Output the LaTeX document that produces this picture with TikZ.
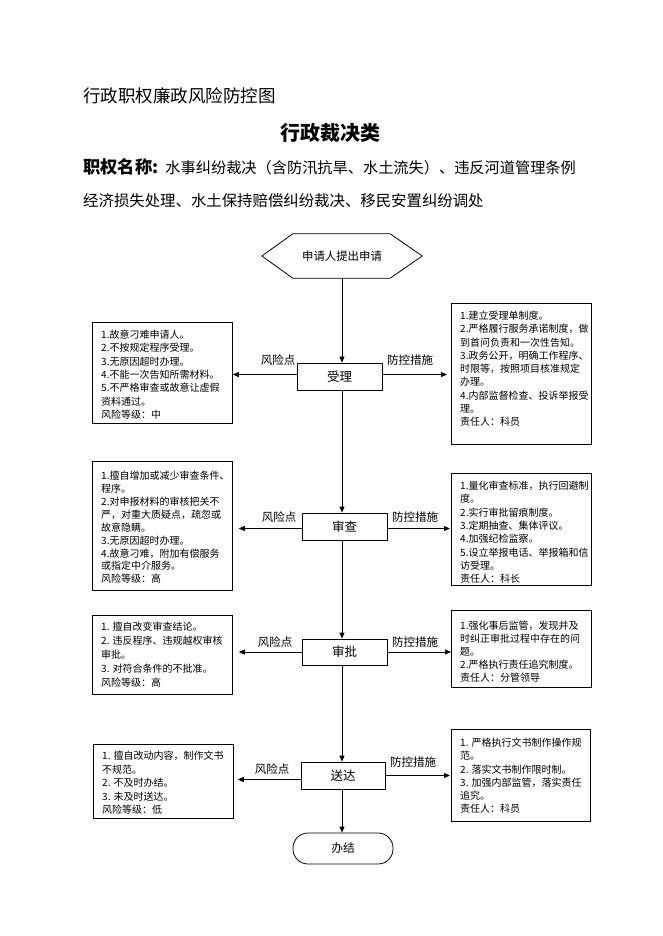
\documentclass[tikz,border=0pt]{standalone}
\usepackage{fontspec}
\setmainfont{Noto Sans CJK SC}
\usetikzlibrary{arrows.meta}
\begin{document}
\begin{tikzpicture}[x=1pt,y=-1pt,
  box/.style={draw, line width=0.8pt, inner sep=0pt, anchor=north west},
  txt/.style={anchor=north west, inner sep=0pt, align=left, font=\fontsize{10}{#1}\selectfont},
  stepbox/.style={draw, line width=0.8pt, minimum width=85pt, minimum height=27pt, inner sep=0pt, font=\fontsize{12.5}{15}\selectfont},
  lab/.style={inner sep=0pt, font=\fontsize{11.5}{14}\selectfont},
  arr/.style={line width=0.8pt, -{Triangle[length=6pt,width=5pt]}},
  ln/.style={line width=0.8pt}]
\useasboundingbox (0,0) rectangle (662,936);
\fill[white] (0,0) rectangle (662,936);

% header
\node[anchor=west, inner sep=0pt, font=\fontsize{17.5}{20}\selectfont] (hd) at (83,96) {行政职权廉政风险防控图};
\node[inner sep=0pt, font=\fontsize{20}{24}\selectfont\bfseries] (tt) at (330,133) {行政裁决类};
\node[anchor=west, inner sep=0pt] (nm) at (83,167) {{\fontsize{17.3}{20}\selectfont\bfseries 职权名称:}\hspace{7pt}{\fontsize{15.2}{18}\selectfont 水事纠纷裁决（含防汛抗旱、水土流失）、违反河道管理条例}};
\node[anchor=west, inner sep=0pt, font=\fontsize{15.4}{18}\selectfont] (nm2) at (83,201) {经济损失处理、水土保持赔偿纠纷裁决、移民安置纠纷调处};

\coordinate (axis) at (342,0);

% hexagon start
\node[minimum width=160pt, minimum height=44pt, inner sep=0pt, font=\fontsize{11.4}{14}\selectfont] (hex) at (342,256) {申请人提出申请};
\draw[ln] (hex.west) -- ([xshift=31pt]hex.north west) -- ([xshift=-32pt]hex.north east) -- (hex.east) -- ([xshift=-32pt]hex.south east) -- ([xshift=31pt]hex.south west) -- cycle;

% steps
\node[stepbox] (s1) at (339.5,376.5) {受理};
\node[stepbox] (s2) at (344.5,526.5) {审查};
\node[stepbox, minimum height=26pt] (s3) at (344.5,652) {审批};
\node[stepbox, minimum width=84pt] (s4) at (343,775.5) {送达};
\node[draw, line width=0.8pt, rounded corners=15pt, minimum width=100pt, minimum height=31pt, inner sep=0pt, font=\fontsize{11.7}{14}\selectfont] (end) at (343,848.5) {办结};

% vertical flow
\draw[arr] (hex.south -| axis) -- (s1.north -| axis);
\draw[arr] (s1.south -| axis) -- (s2.north -| axis);
\draw[arr] (s2.south -| axis) -- (s3.north -| axis);
\draw[arr] (s3.south -| axis) -- (s4.north -| axis);
\draw[arr] (s4.south -| axis) -- (end.north -| axis);

% boxes
\node[box, minimum width=140pt, minimum height=101pt] (L1) at (92,322) {};
\node[box, minimum width=140pt, minimum height=141pt] (R1) at (451,303) {};
\node[box, minimum width=140pt, minimum height=129pt] (L2) at (92,461) {};
\node[box, minimum width=140pt, minimum height=112pt] (R2) at (451,473) {};
\node[box, minimum width=140pt, minimum height=79pt] (L3) at (92,615) {};
\node[box, minimum width=140pt, minimum height=77pt] (R3) at (451,610) {};
\node[box, minimum width=140pt, minimum height=74pt] (L4) at (93,744) {};
\node[box, minimum width=139pt, minimum height=92pt] (R4) at (451,729) {};

% texts
\node[txt=13.3] (L1t) at (101,330) {1.故意刁难申请人。\\2.不按规定程序受理。\\3.无原因超时办理。\\4.不能一次告知所需材料。\\5.不严格审查或故意让虚假\\资料通过。\\风险等级：中};
\node[txt=13.25] (R1t) at (460,311) {1.建立受理单制度。\\2.严格履行服务承诺制度，做\\到首问负责和一次性告知。\\3.政务公开，明确工作程序、\\时限等，按照项目核准规定\\办理。\\4.内部监督检查、投诉举报受\\理。\\责任人：科员};
\node[txt=12.9] (L2t) at (101,471) {1.擅自增加或减少审查条件、\\程序。\\2.对申报材料的审核把关不\\严，对重大质疑点，疏忽或\\故意隐瞒。\\3.无原因超时办理。\\4.故意刁难，附加有偿服务\\或指定中介服务。\\风险等级：高};
\node[txt=13.3] (R2t) at (460,481) {1.量化审查标准，执行回避制\\度。\\2.实行审批留痕制度。\\3.定期抽查、集体评议。\\4.加强纪检监察。\\5.设立举报电话、举报箱和信\\访受理。\\责任人：科长};
\node[txt=14.0] (L3t) at (101,622) {1. 擅自改变审查结论。\\2. 违反程序、违规越权审核\\审批。\\3. 对符合条件的不批准。\\风险等级：高};
\node[txt=13.0] (R3t) at (460,621) {1.强化事后监管，发现并及\\时纠正审批过程中存在的问\\题。\\2.严格执行责任追究制度。\\责任人：分管领导};
\node[txt=13.5] (L4t) at (102,751) {1. 擅自改动内容，制作文书\\不规范。\\2. 不及时办结。\\3. 未及时送达。\\风险等级：低};
\node[txt=13.2] (R4t) at (460,738) {1. 严格执行文书制作操作规\\范。\\2. 落实文书制作限时制。\\3. 加强内部监管，落实责任\\追究。\\责任人：科员};

% horizontal arrows
\draw[arr] ([yshift=2pt]s1.west) -- ([yshift=2pt]s1.west -| L1.east);
\draw[arr, shorten >=4pt] ([yshift=2pt]s1.east) -- ([yshift=2pt]s1.east -| R1.west);
\draw[arr, shorten >=6pt] ([yshift=-2pt]s2.west) -- ([yshift=-2pt]s2.west -| L2.east);
\draw[arr, shorten >=1pt] ([yshift=-2pt]s2.east) -- ([yshift=-2pt]s2.east -| R2.west);
\draw[arr, shorten >=6pt] (s3.west) -- (s3.west -| L3.east);
\draw[arr] (s3.east) -- (s3.east -| R3.west);
\draw[arr, shorten >=4pt] ([yshift=-4pt]s4.west) -- ([yshift=-4pt]s4.west -| L4.east);
\draw[arr, shorten >=1pt] (s4.east) -- (s4.east -| R4.west);

% labels
\node[lab] (f1) at (278,360) {风险点};
\node[lab] (p1) at (410,360) {防控措施};
\node[lab] (f2) at (279,517) {风险点};
\node[lab] (p2) at (415,517) {防控措施};
\node[lab] (f3) at (275,642) {风险点};
\node[lab] (p3) at (415,642) {防控措施};
\node[lab] (f4) at (272,769) {风险点};
\node[lab] (p4) at (413,762) {防控措施};
\end{tikzpicture}
\end{document}
